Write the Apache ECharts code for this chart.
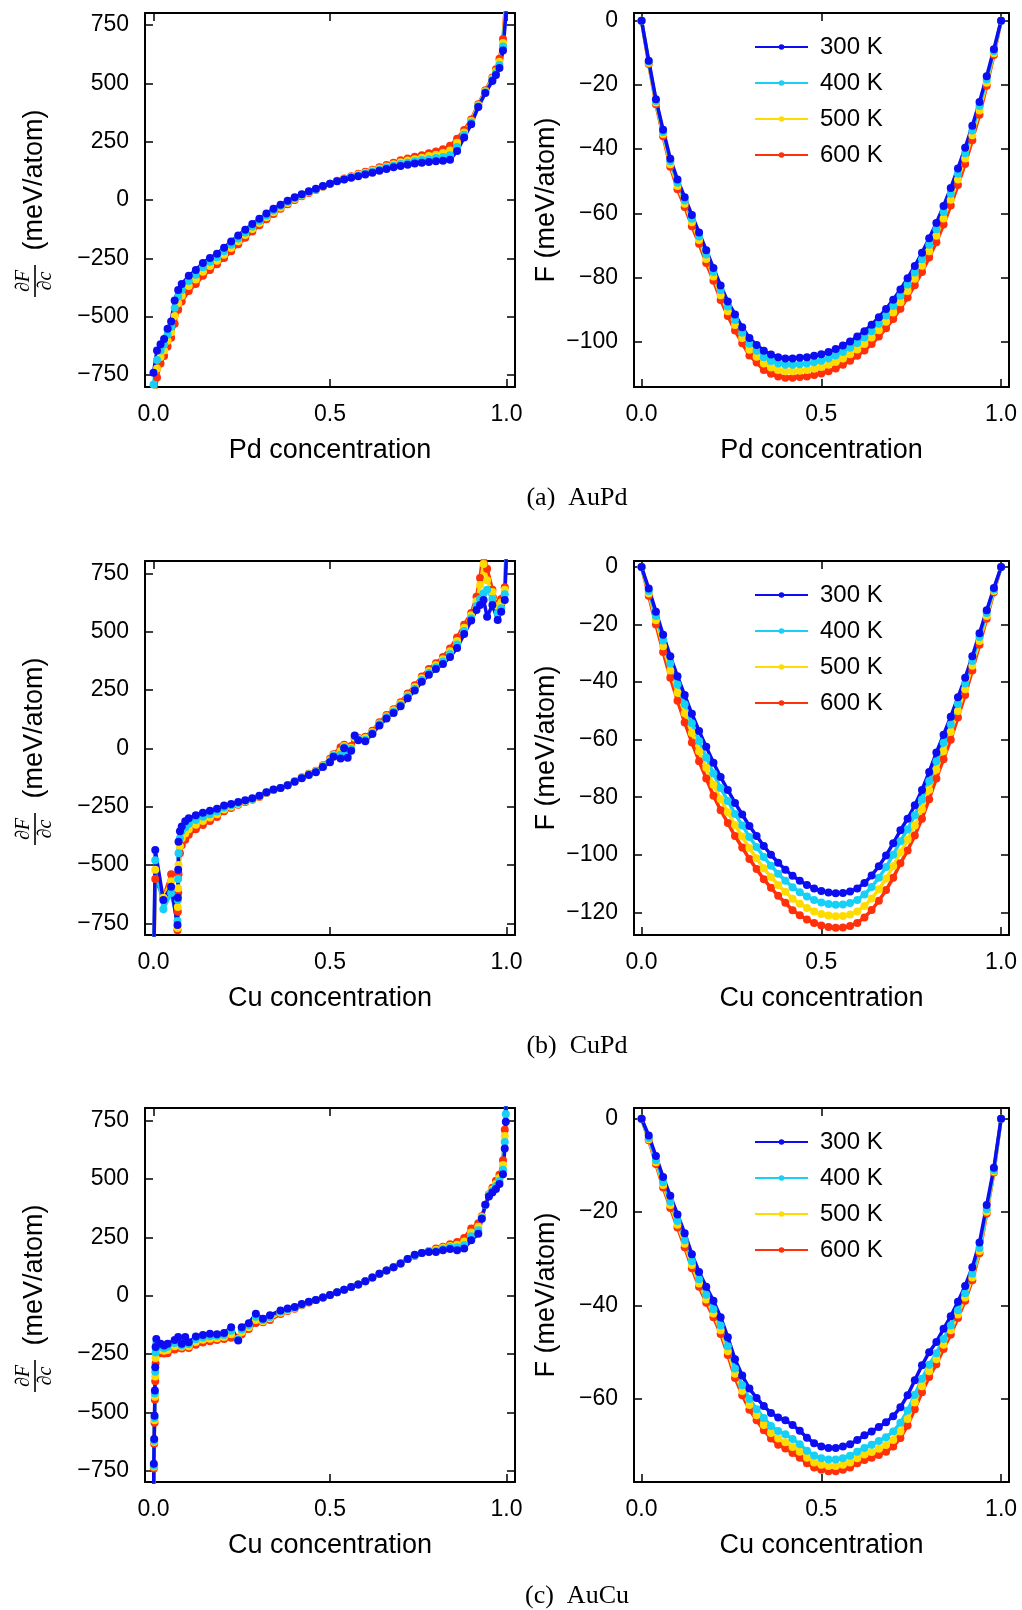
<!DOCTYPE html>
<html><head><meta charset="utf-8">
<script src="https://cdn.jsdelivr.net/npm/echarts@6/dist/echarts.min.js"></script>
<style>html,body{margin:0;padding:0;background:#fff}#c{width:1022px;height:1610px}</style>
</head><body><div id="c"></div>
<script>
// ---------- DATA ----------
const TEMPS = ['300 K', '400 K', '500 K', '600 K'];

// Free energy panels share a concentration grid
const concF = [0,0.02,0.04,0.06,0.08,0.1,0.12,0.14,0.16,0.18,0.2,0.22,0.24,0.26,0.28,0.3,0.32,0.34,0.36,0.38,0.4,0.42,0.44,0.46,0.48,0.5,0.52,0.54,0.56,0.58,0.6,0.62,0.64,0.66,0.68,0.7,0.72,0.74,0.76,0.78,0.8,0.82,0.84,0.86,0.88,0.9,0.92,0.94,0.96,0.98,1];

// (a) AuPd
const concAD = [0,0.01,0.02,0.03,0.04,0.05,0.06,0.07,0.08,0.1,0.12,0.14,0.16,0.18,0.2,0.22,0.24,0.26,0.28,0.3,0.32,0.34,0.36,0.38,0.4,0.42,0.44,0.46,0.48,0.5,0.52,0.54,0.56,0.58,0.6,0.62,0.64,0.66,0.68,0.7,0.72,0.74,0.76,0.78,0.8,0.82,0.84,0.86,0.88,0.9,0.92,0.94,0.96,0.97,0.98,0.99,1];
const aD300 = [-740,-645,-618,-595,-552,-520,-430,-385,-360,-325,-300,-270,-248,-230,-205,-178,-152,-127,-103,-80,-58,-38,-20,-3,12,25,37,48,60,70,80,88,95,102,109,117,125,133,140,146,151,156,160,163,166,168,172,210,268,325,398,458,510,535,565,640,830];
const aD400 = [-790,-685,-645,-620,-577,-543,-463,-413,-385,-347,-320,-288,-265,-245,-219,-192,-165,-139,-114,-89,-66,-45,-26,-8,8,22,35,46,59,70,81,89,97,105,113,121,130,139,147,154,160,166,171,175,180,184,192,227,279,332,402,462,515,543,578,657,853];
const aD500 = [-850,-722,-673,-645,-603,-567,-497,-442,-410,-368,-340,-307,-283,-260,-234,-206,-177,-150,-124,-99,-74,-53,-32,-13,4,19,33,45,58,70,81,91,100,109,117,126,135,144,153,162,169,175,181,188,194,201,212,245,289,338,406,466,520,552,592,673,877];
const aD600 = [-900,-760,-700,-668,-628,-590,-530,-470,-435,-390,-360,-325,-300,-275,-248,-220,-190,-162,-135,-108,-82,-60,-38,-18,0,16,30,43,57,70,82,92,102,112,121,130,140,150,160,170,178,185,192,200,208,217,232,262,300,345,410,470,525,560,605,690,900];
const aF300 = [0,-12.5,-24.5,-34,-43,-49.5,-55,-60.5,-66,-71.5,-77,-82.5,-87.5,-91.5,-95.5,-98.8,-101,-102.8,-104,-104.8,-105.2,-105.2,-105,-104.8,-104.4,-103.9,-103.2,-102.3,-101.2,-99.9,-98.4,-96.7,-94.7,-92.4,-89.8,-86.9,-83.7,-80.2,-76.4,-72.3,-67.8,-63,-57.7,-52.1,-46,-39.6,-32.7,-25.3,-17.3,-8.9,0];
const aF400 = [0,-12.8,-25,-34.7,-43.8,-50.5,-56,-61.7,-67.2,-72.8,-78.3,-84,-89,-93.2,-97.2,-100.6,-102.8,-104.8,-106,-106.8,-107.2,-107.2,-107,-106.8,-106.4,-105.9,-105.2,-104.3,-103.2,-101.9,-100.4,-98.7,-96.7,-94.4,-91.8,-88.9,-85.7,-82.2,-78.4,-74.3,-69.8,-65,-59.6,-53.9,-47.7,-41.3,-34.2,-26.6,-18.3,-9.5,0];
const aF500 = [0,-13.2,-25.5,-35.3,-44.7,-51.5,-57,-62.8,-68.3,-74.2,-79.7,-85.5,-90.5,-94.8,-98.8,-102.5,-104.7,-106.8,-108,-108.8,-109.2,-109.2,-109,-108.8,-108.4,-107.9,-107.2,-106.3,-105.2,-103.9,-102.4,-100.7,-98.7,-96.4,-93.8,-90.9,-87.7,-84.2,-80.4,-76.3,-71.8,-67,-61.6,-55.8,-49.5,-42.9,-35.7,-28,-19.3,-10.1,0];
const aF600 = [0,-13.5,-26,-36,-45.5,-52.5,-58,-64,-69.5,-75.5,-81,-87,-92,-96.5,-100.5,-104.3,-106.5,-108.8,-110,-110.8,-111.2,-111.2,-111,-110.8,-110.4,-109.9,-109.2,-108.3,-107.2,-105.9,-104.4,-102.7,-100.7,-98.4,-95.8,-92.9,-89.7,-86.2,-82.4,-78.3,-73.8,-69,-63.5,-57.6,-51.2,-44.6,-37.2,-29.3,-20.3,-10.7,0];

// (b) CuPd
const concBD = [0,0.005,0.028,0.05,0.068,0.069,0.07,0.071,0.075,0.08,0.09,0.1,0.12,0.14,0.16,0.18,0.2,0.22,0.24,0.26,0.28,0.3,0.32,0.34,0.36,0.38,0.4,0.42,0.44,0.46,0.48,0.5,0.51,0.53,0.54,0.55,0.56,0.57,0.58,0.6,0.62,0.64,0.66,0.68,0.7,0.72,0.74,0.76,0.78,0.8,0.82,0.84,0.86,0.88,0.9,0.915,0.925,0.935,0.945,0.96,0.975,0.985,0.995,1];
const bD300 = [-1000,-436,-650,-593,-757,-640,-520,-400,-355,-335,-312,-300,-287,-276,-267,-259,-245,-238,-230,-222,-214,-203,-188,-176,-170,-158,-143,-128,-114,-102,-80,-60,-36,-43,0,-40,-10,55,35,30,62,98,128,152,180,215,248,285,315,340,362,392,430,490,548,593,614,636,564,614,550,586,636,850];
const bD400 = [-1000,-480,-690,-620,-740,-650,-560,-450,-385,-355,-339,-323,-307,-293,-282,-271,-253,-244,-234,-225,-217,-204,-189,-177,-170,-158,-142,-127,-112,-100,-77,-55,-32,-27,5,-27,-3,52,38,37,66,103,133,157,186,222,255,293,323,348,372,404,445,503,558,610,640,665,680,640,580,600,660,870];
const bD500 = [-1000,-520,-640,-570,-770,-680,-600,-500,-420,-385,-365,-347,-327,-311,-296,-282,-262,-250,-238,-227,-219,-206,-190,-177,-170,-158,-141,-125,-111,-98,-75,-50,-28,-12,10,-13,3,45,42,44,70,107,138,163,192,228,263,300,332,357,382,416,460,517,570,630,700,790,720,670,610,625,680,880];
const bD600 = [-1000,-560,-640,-540,-780,-700,-620,-540,-450,-415,-392,-370,-347,-328,-311,-294,-270,-256,-242,-230,-220,-208,-191,-178,-170,-158,-141,-124,-109,-96,-72,-45,-25,5,15,0,10,40,45,50,75,112,143,168,198,235,270,308,340,365,392,428,475,530,580,650,730,850,770,680,620,640,690,900];
const bF300 = [0,-7.5,-15.5,-23.5,-31,-38,-44.5,-51,-57,-62.5,-68,-73,-77.5,-82,-86,-90,-93.5,-97,-100,-102.8,-105.2,-107.3,-109,-110.5,-111.7,-112.6,-113.1,-113.4,-113.3,-112.8,-111.7,-109.8,-107.2,-104,-100.3,-96,-91.5,-87.5,-82.8,-77.5,-71.2,-64.5,-58.3,-52,-45.3,-38.5,-31,-23,-15,-7.3,0];
const bF400 = [0,-8.3,-17,-25.5,-33.5,-40.8,-47.7,-54.3,-60.5,-66.2,-71.8,-76.8,-81.3,-85.8,-89.8,-93.8,-97.3,-100.8,-103.8,-106.6,-109,-111.3,-113,-114.5,-115.7,-116.6,-117.1,-117.4,-117.3,-116.8,-115.7,-113.8,-111.2,-108,-104.3,-100,-95.3,-91.2,-86.3,-80.8,-74.4,-67.5,-61.1,-54.7,-47.6,-40.5,-32.7,-24.3,-16,-7.8,0];
const bF500 = [0,-9.2,-18.5,-27.5,-36,-43.7,-50.8,-57.7,-64,-69.8,-75.7,-80.7,-85.2,-89.7,-93.7,-97.7,-101.2,-104.7,-107.7,-110.5,-112.9,-115.3,-117,-118.5,-119.7,-120.6,-121.1,-121.4,-121.3,-120.8,-119.7,-117.8,-115.2,-112,-108.3,-104,-99.2,-94.8,-89.8,-84.2,-77.5,-70.5,-64,-57.3,-50,-42.5,-34.3,-25.7,-17,-8.3,0];
const bF600 = [0,-10,-20,-29.5,-38.5,-46.5,-54,-61,-67.5,-73.5,-79.5,-84.5,-89,-93.5,-97.5,-101.5,-105,-108.5,-111.5,-114.3,-116.7,-119.3,-121,-122.5,-123.7,-124.6,-125.1,-125.4,-125.3,-124.8,-123.7,-121.8,-119.2,-116,-112.3,-108,-103,-98.5,-93.3,-87.5,-80.7,-73.5,-66.8,-60,-52.3,-44.5,-36,-27,-18,-8.8,0];

// (c) AuCu
const concCD = [0,0.001,0.002,0.003,0.004,0.005,0.006,0.008,0.02,0.03,0.04,0.06,0.07,0.08,0.09,0.1,0.12,0.14,0.16,0.18,0.2,0.22,0.24,0.25,0.27,0.29,0.31,0.33,0.36,0.38,0.4,0.42,0.44,0.46,0.48,0.5,0.52,0.54,0.56,0.58,0.6,0.62,0.64,0.66,0.68,0.7,0.72,0.74,0.76,0.78,0.8,0.82,0.84,0.86,0.88,0.9,0.92,0.93,0.94,0.95,0.96,0.97,0.98,0.99,0.995,0.998,1];
const cD300 = [-1000,-720,-614,-514,-406,-306,-220,-185,-206,-213,-206,-190,-177,-206,-177,-199,-175,-168,-163,-165,-160,-135,-192,-135,-118,-77,-99,-84,-63,-55,-48,-36,-26,-18,-8,3,15,25,37,48,62,78,94,108,122,138,157,175,183,187,187,195,200,195,202,238,265,330,390,425,442,457,478,520,631,745,1000];
const cD400 = [-1000,-727,-621,-524,-419,-326,-243,-205,-219,-225,-219,-203,-192,-213,-190,-207,-187,-179,-174,-173,-168,-150,-189,-145,-126,-90,-104,-91,-68,-58,-51,-38,-27,-18,-8,3,15,25,37,48,62,78,94,108,122,138,157,173,183,189,192,200,207,207,217,255,280,333,390,428,449,469,491,540,658,778,1000];
const cD500 = [-1000,-733,-627,-534,-433,-346,-267,-225,-233,-236,-233,-217,-207,-219,-204,-216,-198,-189,-184,-182,-177,-165,-185,-155,-135,-104,-109,-97,-73,-62,-53,-39,-28,-18,-8,3,15,25,37,48,62,78,94,108,122,138,157,172,183,190,197,205,213,218,232,271,295,337,390,432,455,480,505,560,684,812,1000];
const cD600 = [-1000,-740,-634,-544,-446,-366,-290,-245,-246,-248,-246,-230,-222,-226,-217,-224,-210,-200,-195,-190,-185,-180,-182,-165,-143,-117,-114,-104,-78,-65,-56,-41,-29,-18,-8,3,15,25,37,48,62,78,94,108,122,138,157,170,183,192,202,210,220,230,247,288,310,340,390,435,462,492,518,580,711,845,1000];
const cF300 = [0,-3.6,-8,-12.5,-16.5,-20.5,-24.5,-29,-32.8,-36,-39,-42.5,-46.8,-51.5,-55,-57.8,-59.8,-61.5,-63,-64,-64.6,-65.6,-66.8,-68.3,-69.5,-70.2,-70.5,-70.5,-70.2,-69.7,-68.8,-67.8,-67,-66,-65,-63.7,-61.8,-59.2,-56,-52.8,-50,-47.8,-45,-42.3,-39.2,-35.8,-31.8,-26.5,-18.5,-10.5,0];
const cF400 = [0,-4.1,-8.9,-13.6,-17.8,-21.9,-26,-30.5,-34.4,-37.7,-40.8,-44.3,-48.7,-53.5,-57.1,-60,-62.2,-64.1,-65.8,-66.9,-67.6,-68.6,-69.7,-71.1,-72.1,-72.7,-73,-73,-72.7,-72.2,-71.3,-70.5,-69.8,-69,-68.2,-67,-65.1,-62.5,-59.1,-55.7,-52.7,-50.2,-47.2,-44.3,-41,-37.4,-33.2,-27.7,-19.4,-11,0];
const cF500 = [0,-4.4,-9.3,-14.2,-18.5,-22.7,-26.8,-31.3,-35.3,-38.7,-41.7,-45.3,-49.8,-54.6,-58.3,-61.3,-63.5,-65.6,-67.3,-68.5,-69.3,-70.3,-71.3,-72.6,-73.6,-74.1,-74.4,-74.4,-74.1,-73.6,-72.7,-71.9,-71.4,-70.7,-69.9,-68.8,-67,-64.3,-60.8,-57.3,-54.1,-51.5,-48.4,-45.3,-41.9,-38.3,-34,-28.3,-19.9,-11.3,0];
const cF600 = [0,-4.6,-9.7,-14.7,-19.1,-23.3,-27.5,-32,-36,-39.4,-42.5,-46.1,-50.6,-55.5,-59.2,-62.3,-64.6,-66.7,-68.5,-69.8,-70.6,-71.6,-72.6,-73.8,-74.7,-75.2,-75.5,-75.5,-75.2,-74.7,-73.8,-73.1,-72.6,-72,-71.3,-70.2,-68.4,-65.7,-62.2,-58.6,-55.3,-52.6,-49.3,-46.2,-42.7,-39,-34.6,-28.8,-20.3,-11.5,0];

// tick labels
const xTicks = [0, 0.5, 1];
const dTicks = [-750, -500, -250, 0, 250, 500, 750];
const aFTicks = [-100, -80, -60, -40, -20, 0];
const bFTicks = [-120, -100, -80, -60, -40, -20, 0];
const cFTicks = [-60, -40, -20, 0];
const captions = ['(a)  AuPd', '(b)  CuPd', '(c)  AuCu'];
const xNames = ['Pd concentration', 'Cu concentration', 'Cu concentration'];

// ---------- LAYOUT ----------
const COLORS = ['#0d0df2', '#16d0f5', '#ffdc00', '#ff300a'];
const FONT = 'Liberation Sans';
const rowTops = [13, 561, 1108];
const PH = 374;

const panels = [
  {left:145, w:370, top:rowTops[0], x:[-0.024,1.024], y:[-801,801], yt:dTicks, xn:xNames[0], conc:concAD, s:[aD300,aD400,aD500,aD600], deriv:true},
  {left:634, w:375, top:rowTops[0], x:[-0.021,1.022], y:[-114.1,2.4], yt:aFTicks, xn:xNames[0], conc:concF, s:[aF300,aF400,aF500,aF600]},
  {left:145, w:370, top:rowTops[1], x:[-0.024,1.024], y:[-800,803], yt:dTicks, xn:xNames[1], conc:concBD, s:[bD300,bD400,bD500,bD600], deriv:true},
  {left:634, w:375, top:rowTops[1], x:[-0.021,1.022], y:[-127.9,2.1], yt:bFTicks, xn:xNames[1], conc:concF, s:[bF300,bF400,bF500,bF600]},
  {left:145, w:370, top:rowTops[2], x:[-0.024,1.024], y:[-798,804], yt:dTicks, xn:xNames[2], conc:concCD, s:[cD300,cD400,cD500,cD600], deriv:true},
  {left:634, w:375, top:rowTops[2], x:[-0.021,1.022], y:[-77.8,2.3], yt:cFTicks, xn:xNames[2], conc:concF, s:[cF300,cF400,cF500,cF600]}
];

const fmtY = v => (v < 0 ? '\u2212' + (-v) : String(v));
const zip = (xs, ys) => xs.map((x, i) => [x, ys[i]]);

const grid = [], xAxis = [], yAxis = [], series = [], legend = [], graphic = [];
const lineCol = {color:'#000', width:2};
const tickCol = {color:'#000', width:1.5};

panels.forEach((p, i) => {
  grid.push({left:p.left, top:p.top, width:p.w, height:PH, outerBoundsMode:'none', containLabel:false});
  const xb = {type:'value', gridIndex:i, min:p.x[0], max:p.x[1], splitLine:{show:false},
    axisLine:{show:true, onZero:false, lineStyle:lineCol},
    axisTick:{show:true, inside:true, length:8, customValues:xTicks, lineStyle:tickCol}};
  xAxis.push(Object.assign({}, xb, {position:'bottom',
    axisLabel:{show:true, customValues:xTicks, formatter:v => v.toFixed(1), fontSize:23, color:'#000', fontFamily:FONT, margin:16},
    name:p.xn, nameLocation:'middle', nameGap:50, nameTextStyle:{fontSize:27, color:'#000', fontFamily:FONT}}));
  xAxis.push(Object.assign({}, xb, {position:'top', axisLabel:{show:false}}));
  const yb = {type:'value', gridIndex:i, min:p.y[0], max:p.y[1], splitLine:{show:false},
    axisLine:{show:true, onZero:false, lineStyle:lineCol},
    axisTick:{show:true, inside:true, length:8, customValues:p.yt, lineStyle:tickCol}};
  const yl = Object.assign({}, yb, {position:'left',
    axisLabel:{show:true, customValues:p.yt, formatter:fmtY, fontSize:23, color:'#000', fontFamily:FONT, margin:16}});
  if (!p.deriv) {
    yl.name = 'F (meV/atom)'; yl.nameLocation = 'middle'; yl.nameGap = 74;
    yl.nameTextStyle = {fontSize:27, color:'#000', fontFamily:FONT};
  }
  yAxis.push(yl);
  yAxis.push(Object.assign({}, yb, {position:'right', axisLabel:{show:false}}));
  // draw highest temperature first so 300 K sits on top
  for (let k = 3; k >= 0; k--) {
    series.push({type:'line', name:TEMPS[k], xAxisIndex:2*i, yAxisIndex:2*i,
      data:zip(p.conc, p.s[k]), symbol:'circle', symbolSize:8, showSymbol:true, showAllSymbol:true,
      clip:true, color:COLORS[k], lineStyle:{width:3.5, color:COLORS[k]}, itemStyle:{color:COLORS[k]},
      emphasis:{disabled:true}, animation:false});
  }
  if (p.deriv) {
    const cy = p.top + PH / 2;
    graphic.push({type:'group', x:35, y:cy, rotation:Math.PI/2, children:[
      {type:'text', x:20, y:0, style:{text:'(meV/atom)', font:'27px "Liberation Sans"', fill:'#000', align:'center', verticalAlign:'middle'}},
      {type:'text', x:-81, y:-11, style:{text:'\u2202F', font:'italic 20px "Liberation Serif"', fill:'#000', align:'center', verticalAlign:'middle'}},
      {type:'line', shape:{x1:-97, y1:0, x2:-65, y2:0}, style:{stroke:'#000', lineWidth:1.6}},
      {type:'text', x:-81, y:11, style:{text:'\u2202c', font:'italic 20px "Liberation Serif"', fill:'#000', align:'center', verticalAlign:'middle'}}
    ]});
  } else {
    legend.push({orient:'vertical', left:754, top:p.top + 16, padding:0, itemGap:0, itemWidth:53, itemHeight:7,
      data:TEMPS.slice(), selectedMode:false,
      textStyle:{fontSize:24, color:'#000', fontFamily:FONT, lineHeight:36, padding:[0,0,0,7]}});
  }
});

const capY = [498, 1046, 1596];
capY.forEach((y, i) => {
  graphic.push({type:'text', x:577, y:y, style:{text:captions[i], font:'26px "Liberation Serif"', fill:'#000', align:'center', verticalAlign:'middle'}});
});

const chart = echarts.init(document.getElementById('c'), null, {renderer:'canvas'});
chart.setOption({backgroundColor:'#fff', animation:false, grid, xAxis, yAxis, series, legend, graphic});
</script></body></html>
